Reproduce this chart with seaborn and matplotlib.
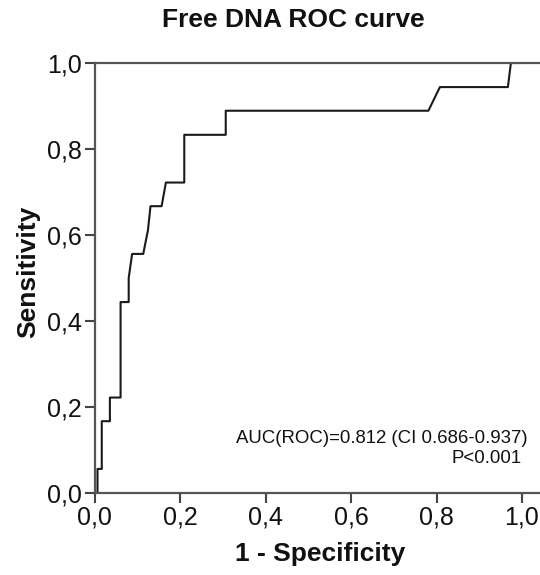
import matplotlib
matplotlib.use("Agg")
import matplotlib.pyplot as plt
import pandas as pd
import seaborn as sns

# ROC points (1 - specificity, sensitivity)
fpr = [0.0, 0.007, 0.007, 0.017, 0.017, 0.036, 0.036, 0.061, 0.061, 0.080,
       0.080, 0.088, 0.114, 0.125, 0.131, 0.157, 0.167, 0.210, 0.210, 0.307,
       0.307, 0.781, 0.808, 0.967, 0.974, 1.0]
tpr = [0.0, 0.0, 0.056, 0.056, 0.167, 0.167, 0.222, 0.222, 0.444, 0.444,
       0.500, 0.556, 0.556, 0.611, 0.667, 0.667, 0.722, 0.722, 0.833, 0.833,
       0.889, 0.889, 0.944, 0.944, 1.0, 1.0]
ticks = [0.0, 0.2, 0.4, 0.6, 0.8, 1.0]
tick_labels = ["0,0", "0,2", "0,4", "0,6", "0,8", "1,0"]
auc_text = "AUC(ROC)=0.812 (CI 0.686-0.937)"
p_text = "P<0.001"

sns.set_style("ticks")
plt.rcParams["font.family"] = ["Liberation Sans", "DejaVu Sans"]
plt.rcParams["text.color"] = "#111111"

df = pd.DataFrame({"fpr": fpr, "tpr": tpr})

W, H = 540, 575
fig = plt.figure(figsize=(W / 100, H / 100), dpi=100)
ax = fig.add_axes([94.5 / W, (H - 493) / H, 1.06 * 427.5 / W, 430 / H])

# estimator=None so the vertical steps (repeated x) are drawn as is
sns.lineplot(data=df, x="fpr", y="tpr", sort=False, estimator=None,
             color="#1a1a1a", linewidth=1.5, ax=ax)

ax.set_xlim(0, 1.06)
ax.set_ylim(0, 1.0)
ax.set_xticks(ticks)
ax.set_xticklabels(tick_labels)
ax.set_yticks(ticks)
ax.set_yticklabels(tick_labels)
ax.tick_params(labelsize=18, length=7, width=1.5, color="#444444",
               labelcolor="#111111", direction="out", pad=2)
ax.set_xlabel("")
ax.set_ylabel("")
for side in ("left", "bottom", "top"):
    ax.spines[side].set_color("#555555")
    ax.spines[side].set_linewidth(1.6)
ax.spines["right"].set_visible(False)

ax.text(1.014, 0.126, auc_text, ha="right", va="center", fontsize=13.4)
ax.text(0.999, 0.081, p_text, ha="right", va="center", fontsize=13.4)

fig.text(293 / W, 1 - 20 / H, "Free DNA ROC curve", ha="center",
         va="center", fontsize=19, fontweight="bold")
fig.text(320 / W, 1 - 554 / H, "1 - Specificity", ha="center",
         va="center", fontsize=19, fontweight="bold")
fig.text(28 / W, 1 - 272 / H, "Sensitivity", ha="center", va="center",
         rotation=90, fontsize=19, fontweight="bold")

fig.savefig("out.png", dpi=100)
